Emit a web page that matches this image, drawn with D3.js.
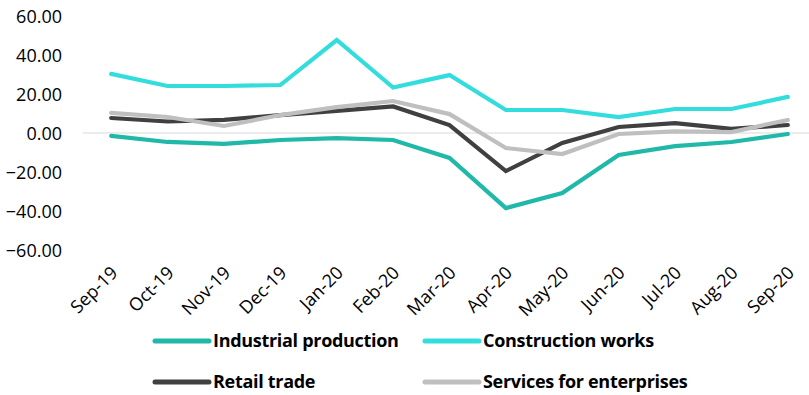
<!DOCTYPE html>
<html>
<head>
<meta charset="utf-8">
<script src="https://cdn.jsdelivr.net/npm/d3@7"></script>
<style>
  html, body { margin: 0; padding: 0; background: #fff; }
  svg { display: block; }
</style>
</head>
<body>
<svg id="chart" width="809" height="395"></svg>
<script>
// Monthly indicators, Sep-19 to Sep-20 (year-on-year change, %)
const months = ["Sep-19","Oct-19","Nov-19","Dec-19","Jan-20","Feb-20","Mar-20","Apr-20","May-20","Jun-20","Jul-20","Aug-20","Sep-20"];
const industrialProduction = [-1.5, -4.6, -5.6, -3.6, -2.6, -3.6, -12.8, -38.5, -30.8, -11.3, -6.7, -4.6, -0.5];
const constructionWorks    = [30.3, 24.1, 24.1, 24.6, 47.7, 23.3, 29.7, 11.8, 11.8, 8.2, 12.3, 12.3, 18.5];
const retailTrade          = [7.7, 5.9, 6.7, 9.2, 11.3, 13.6, 4.1, -19.5, -5.1, 3.1, 5.1, 2.1, 4.1];
const servicesEnterprises  = [10.3, 8.2, 3.6, 9.2, 13.3, 16.4, 9.7, -7.7, -10.8, -0.5, 0.8, 0.5, 6.7];
const yTicks = [-60, -40, -20, 0, 20, 40, 60];

const seriesNames  = ["Industrial production", "Construction works", "Retail trade", "Services for enterprises"];
const seriesValues = [industrialProduction, constructionWorks, retailTrade, servicesEnterprises];
const seriesColors = ["#20B8A8", "#33DDDD", "#404040", "#BFBFBF"];

const svg = d3.select("#chart");
const plot = { left: 83, right: 816, top: 16, bottom: 250 };

const x = d3.scalePoint().domain(months).range([plot.left, plot.right]).padding(0.5);
const y = d3.scaleLinear().domain([-60, 60]).range([plot.bottom, plot.top]);

// Y axis labels
const yAxis = d3.axisLeft(y).tickValues(yTicks).tickFormat(d3.format(".2f")).tickSize(0).tickPadding(0);
const yg = svg.append("g").attr("transform", `translate(62,0)`).call(yAxis);
yg.select(".domain").remove();
yg.selectAll("text")
  .attr("font-family", "'Open Sans', sans-serif")
  .attr("font-size", 18)
  .attr("fill", "#000")
  .attr("dy", "0.36em");

// Zero line
svg.append("line")
  .attr("x1", plot.left).attr("x2", 809)
  .attr("y1", y(0)).attr("y2", y(0))
  .attr("stroke", "#D9D9D9").attr("stroke-width", 1.2);

// X axis labels, rotated
const xAxis = d3.axisBottom(x).tickSize(0).tickPadding(0);
const xg = svg.append("g").attr("transform", `translate(0,${plot.bottom + 12})`).call(xAxis);
xg.select(".domain").remove();
xg.selectAll("text")
  .attr("font-family", "'Open Sans', sans-serif")
  .attr("font-size", 18)
  .attr("fill", "#000")
  .attr("text-anchor", "end")
  .attr("dy", 0)
  .attr("transform", "translate(7,12) rotate(-45)");

// Lines
const line = d3.line()
  .x((d, i) => x(months[i]))
  .y(d => y(d));

svg.append("g").selectAll("path")
  .data(seriesValues)
  .join("path")
  .attr("d", d => line(d))
  .attr("fill", "none")
  .attr("stroke", (d, i) => seriesColors[i])
  .attr("stroke-width", 4.2)
  .attr("stroke-linejoin", "miter")
  .attr("stroke-linecap", "round");

// Legend
const legendPos = [[155, 341], [425, 341], [155, 382], [425, 382]];
const lg = svg.append("g").selectAll("g")
  .data(seriesNames)
  .join("g")
  .attr("transform", (d, i) => `translate(${legendPos[i][0]},${legendPos[i][1]})`);
lg.append("line")
  .attr("x1", 0).attr("x2", 54).attr("y1", 0).attr("y2", 0)
  .attr("stroke", (d, i) => seriesColors[i])
  .attr("stroke-width", 5)
  .attr("stroke-linecap", "round");
lg.append("text")
  .attr("x", 58).attr("y", 0).attr("dy", "0.36em")
  .attr("font-family", "'Open Sans', sans-serif")
  .attr("font-weight", "bold")
  .attr("font-size", 18)
  .attr("letter-spacing", -0.3)
  .attr("fill", "#000")
  .text(d => d);
</script>
</body>
</html>
